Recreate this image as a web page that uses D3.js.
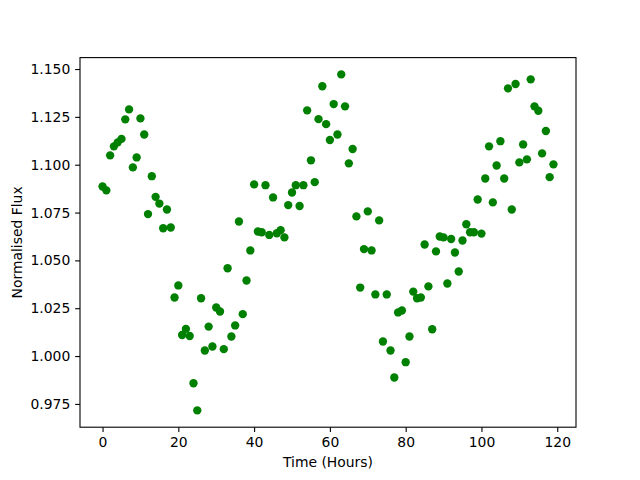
<!DOCTYPE html>
<html>
<head>
<meta charset="utf-8">
<script src="https://cdn.jsdelivr.net/npm/d3@7"></script>
<style>
  body { margin: 0; background: #fff; }
  svg { display: block; }
  text { font-family: "DejaVu Sans", sans-serif; }
</style>
</head>
<body>
<svg id="chart" width="640" height="480"></svg>
<script>
// Data: hourly normalised flux readings
const hours = d3.range(0, 120);
const flux = [
  1.0886, 1.0866, 1.1049, 1.1096, 1.1117, 1.1135, 1.1237, 1.1289, 1.0986, 1.1038,
  1.1242, 1.1158, 1.0742, 1.0940, 1.0832, 1.0797, 1.0668, 1.0766, 1.0672, 1.0306,
  1.0369, 1.0110, 1.0142, 1.0105, 0.9858, 0.9716, 1.0302, 1.0029, 1.0154, 1.0050,
  1.0254, 1.0233, 1.0036, 1.0459, 1.0102, 1.0160, 1.0703, 1.0219, 1.0395, 1.0552,
  1.0897, 1.0651, 1.0647, 1.0893, 1.0633, 1.0829, 1.0642, 1.0658, 1.0620, 1.0789,
  1.0855, 1.0893, 1.0784, 1.0893, 1.1284, 1.1023, 1.0909, 1.1238, 1.1410, 1.1212,
  1.1129, 1.1317, 1.1158, 1.1472, 1.1305, 1.1007, 1.1082, 1.0730, 1.0358, 1.0559,
  1.0756, 1.0552, 1.0322, 1.0709, 1.0076, 1.0322, 1.0029, 0.9888, 1.0228, 1.0238,
  0.9968, 1.0102, 1.0337, 1.0302, 1.0306, 1.0583, 1.0364, 1.0140, 1.0547, 1.0625,
  1.0620, 1.0379, 1.0612, 1.0541, 1.0442, 1.0604, 1.0689, 1.0647, 1.0647, 1.0818,
  1.0640, 1.0928, 1.1096, 1.0803, 1.0996, 1.1123, 1.0928, 1.1399, 1.0766, 1.1422,
  1.1012, 1.1106, 1.1028, 1.1446, 1.1305, 1.1282, 1.1059, 1.1176, 1.0935, 1.1002
];
const xTicks = [0, 20, 40, 60, 80, 100, 120];
const yTicks = [0.975, 1.000, 1.025, 1.050, 1.075, 1.100, 1.125, 1.150];
const xLabel = "Time (Hours)";
const yLabel = "Normalised Flux";

const points = hours.map((h, i) => ({ x: h, y: flux[i] }));

const mL = 80, mR = 576, mT = 57.6, mB = 427.2;
const svg = d3.select("#chart");

function padded(ext) {
  const r = ext[1] - ext[0];
  return [ext[0] - 0.05 * r, ext[1] + 0.05 * r];
}
const x = d3.scaleLinear().domain(padded(d3.extent(hours))).range([mL, mR]);
const y = d3.scaleLinear().domain(padded(d3.extent(flux))).range([mB, mT]);

const tickLen = 4.86, tickPad = 4.86, fs = "13.9px";

// points
svg.append("g")
  .selectAll("circle")
  .data(points)
  .enter().append("circle")
  .attr("cx", d => x(d.x))
  .attr("cy", d => y(d.y))
  .attr("r", 4.17)
  .attr("fill", "#008000");

// axes
const gx = svg.append("g")
  .attr("transform", `translate(0,${mB})`)
  .call(d3.axisBottom(x).tickValues(xTicks).tickFormat(d3.format("d"))
    .tickSizeInner(tickLen).tickSizeOuter(0).tickPadding(tickPad));
const gy = svg.append("g")
  .attr("transform", `translate(${mL},0)`)
  .call(d3.axisLeft(y).tickValues(yTicks).tickFormat(d3.format(".3f"))
    .tickSizeInner(tickLen).tickSizeOuter(0).tickPadding(tickPad));

[gx, gy].forEach(g => {
  g.select(".domain").remove();
  g.selectAll(".tick line").attr("stroke", "#000").attr("stroke-width", 1.1);
  g.selectAll(".tick text").attr("fill", "#000").style("font-size", fs)
    .style("font-family", "'DejaVu Sans', sans-serif");
});

// frame
svg.append("rect")
  .attr("x", mL).attr("y", mT)
  .attr("width", mR - mL).attr("height", mB - mT)
  .attr("fill", "none").attr("stroke", "#000").attr("stroke-width", 1.1);

// labels
svg.append("text")
  .attr("x", (mL + mR) / 2).attr("y", 467)
  .attr("text-anchor", "middle")
  .style("font-size", fs)
  .text(xLabel);

svg.append("text")
  .attr("transform", `translate(21.5,${(mT + mB) / 2}) rotate(-90)`)
  .attr("text-anchor", "middle")
  .style("font-size", fs)
  .text(yLabel);
</script>
</body>
</html>
